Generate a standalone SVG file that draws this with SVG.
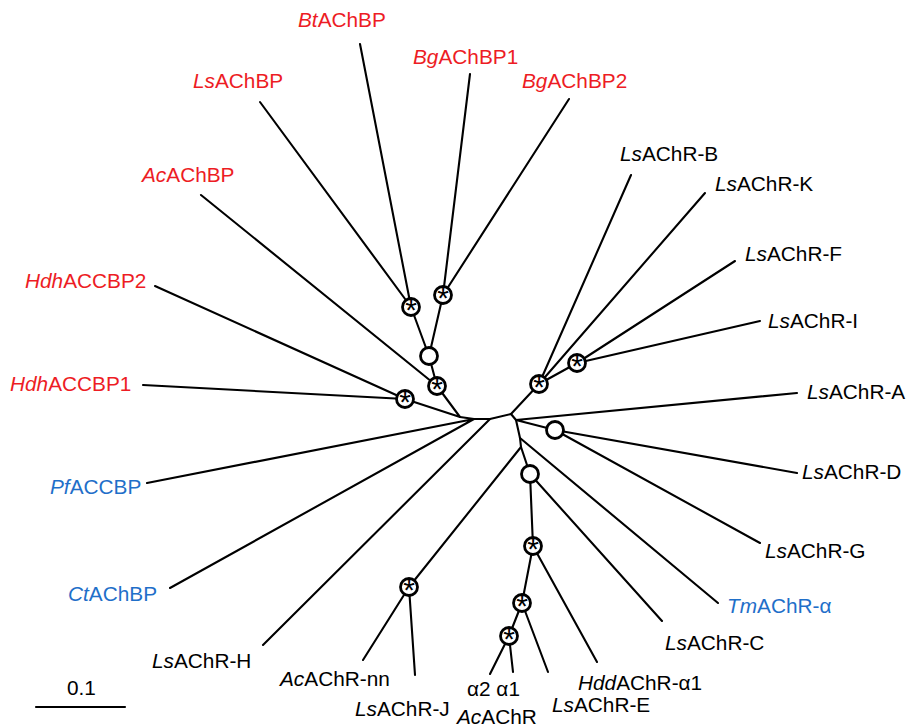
<svg xmlns="http://www.w3.org/2000/svg" width="906" height="727" viewBox="0 0 906 727">
<style>
.br{stroke:#000;stroke-width:2.1;fill:none;stroke-linecap:round;stroke-linejoin:round}
.nd{fill:#fff;stroke:#000;stroke-width:2.8}
.lb{font-family:"Liberation Sans",Arial,sans-serif;font-size:20.8px;fill:#000}
.red{fill:#ed1c24}
.blue{fill:#1f6fc9}
.ast{font-family:"Liberation Sans",Arial,sans-serif;font-size:30px;text-anchor:middle;fill:#000}
.i{font-style:italic}
</style>
<rect width="906" height="727" fill="#fff"/>
<g id="connectors" class="br">
<path d="M360,44L411,307M260,102L411,307M470,74L443,295M569,99L443,295"/>
<path d="M411,307L429,356M443,295L429,356M429,356L437,386M201,195L437,386"/>
<path d="M155,286L405,399M143,385L405,399M405,399L460,417M437,386L460,417"/>
<path d="M460,417L474,419L490,419L511,414"/>
<path d="M147,483L474,419M170,588L474,419M263,645L490,419"/>
<path d="M511,414L539,384M539,384L631,175M539,384L705,193M539,384L577,363M577,363L735,261M577,363L760,321"/>
<path d="M511,414L516,420L520,438L521,447"/>
<path d="M516,420L797,393M516,420L555,430M555,430L797,473M555,430L760,543"/>
<path d="M520,438L718,603M521,447L409,587M409,587L363,660M409,587L415,675"/>
<path d="M521,447L530,474M530,474L662,621M530,474L533,546M533,546L597,662M533,546L522,603M522,603L548,672M522,603L509,636M509,636L490,674M509,636L513,672"/>
<path d="M36,707L125,707"/>
</g>
<g id="n_s1"><circle class="nd" cx="411" cy="307" r="8.5"/><text class="ast" x="411" y="319.5">*</text></g>
<g id="n_s2"><circle class="nd" cx="443" cy="295" r="8.5"/><text class="ast" x="443" y="307.5">*</text></g>
<g id="n_c1"><circle class="nd" cx="429" cy="356" r="8.5"/></g>
<g id="n_s3"><circle class="nd" cx="437" cy="386" r="8.5"/><text class="ast" x="437" y="398.5">*</text></g>
<g id="n_s4"><circle class="nd" cx="405" cy="399" r="8.5"/><text class="ast" x="405" y="411.5">*</text></g>
<g id="n_s5"><circle class="nd" cx="539" cy="384" r="8.5"/><text class="ast" x="539" y="396.5">*</text></g>
<g id="n_s6"><circle class="nd" cx="577" cy="363" r="8.5"/><text class="ast" x="577" y="375.5">*</text></g>
<g id="n_c2"><circle class="nd" cx="555" cy="430" r="8.5"/></g>
<g id="n_c3"><circle class="nd" cx="530" cy="474" r="8.5"/></g>
<g id="n_s7"><circle class="nd" cx="409" cy="587" r="8.5"/><text class="ast" x="409" y="599.5">*</text></g>
<g id="n_s8"><circle class="nd" cx="533" cy="546" r="8.5"/><text class="ast" x="533" y="558.5">*</text></g>
<g id="n_s9"><circle class="nd" cx="522" cy="603" r="8.5"/><text class="ast" x="522" y="615.5">*</text></g>
<g id="n_s10"><circle class="nd" cx="509" cy="636" r="8.5"/><text class="ast" x="509" y="648.5">*</text></g>
<g id="BtAChBP"><text class="lb red" x="298" y="27"><tspan class="i">Bt</tspan>AChBP</text></g>
<g id="LsAChBP"><text class="lb red" x="193" y="88"><tspan class="i">Ls</tspan>AChBP</text></g>
<g id="BgAChBP1"><text class="lb red" x="413" y="64"><tspan class="i">Bg</tspan>AChBP1</text></g>
<g id="BgAChBP2"><text class="lb red" x="522" y="88"><tspan class="i">Bg</tspan>AChBP2</text></g>
<g id="AcAChBP"><text class="lb red" x="142" y="182"><tspan class="i">Ac</tspan>AChBP</text></g>
<g id="HdhACCBP2"><text class="lb red" x="25" y="288"><tspan class="i">Hdh</tspan>ACCBP2</text></g>
<g id="HdhACCBP1"><text class="lb red" x="10" y="391"><tspan class="i">Hdh</tspan>ACCBP1</text></g>
<g id="PfACCBP"><text class="lb blue" x="50" y="494"><tspan class="i">Pf</tspan>ACCBP</text></g>
<g id="CtAChBP"><text class="lb blue" x="68" y="601"><tspan class="i">Ct</tspan>AChBP</text></g>
<g id="LsAChR-H"><text class="lb" x="152" y="668"><tspan class="i">Ls</tspan>AChR-H</text></g>
<g id="scale"><text class="lb" x="67" y="695">0.1</text></g>
<g id="AcAChR-nn"><text class="lb" x="280" y="686"><tspan class="i">Ac</tspan>AChR-nn</text></g>
<g id="LsAChR-J"><text class="lb" x="355" y="716"><tspan class="i">Ls</tspan>AChR-J</text></g>
<g id="AcAChR"><text class="lb" x="467" y="696">α2 α1</text><text class="lb" x="457" y="724"><tspan class="i">Ac</tspan>AChR</text></g>
<g id="LsAChR-E"><text class="lb" x="552" y="712"><tspan class="i">Ls</tspan>AChR-E</text></g>
<g id="HddAChR-a1"><text class="lb" x="578" y="690"><tspan class="i">Hdd</tspan>AChR-α1</text></g>
<g id="LsAChR-C"><text class="lb" x="665" y="650"><tspan class="i">Ls</tspan>AChR-C</text></g>
<g id="TmAChR-a"><text class="lb blue" x="727" y="613"><tspan class="i">Tm</tspan>AChR-α</text></g>
<g id="LsAChR-G"><text class="lb" x="765" y="558"><tspan class="i">Ls</tspan>AChR-G</text></g>
<g id="LsAChR-D"><text class="lb" x="802" y="479"><tspan class="i">Ls</tspan>AChR-D</text></g>
<g id="LsAChR-A"><text class="lb" x="807" y="399"><tspan class="i">Ls</tspan>AChR-A</text></g>
<g id="LsAChR-I"><text class="lb" x="768" y="328"><tspan class="i">Ls</tspan>AChR-I</text></g>
<g id="LsAChR-F"><text class="lb" x="745" y="261"><tspan class="i">Ls</tspan>AChR-F</text></g>
<g id="LsAChR-K"><text class="lb" x="715" y="191"><tspan class="i">Ls</tspan>AChR-K</text></g>
<g id="LsAChR-B"><text class="lb" x="620" y="161"><tspan class="i">Ls</tspan>AChR-B</text></g>
</svg>
